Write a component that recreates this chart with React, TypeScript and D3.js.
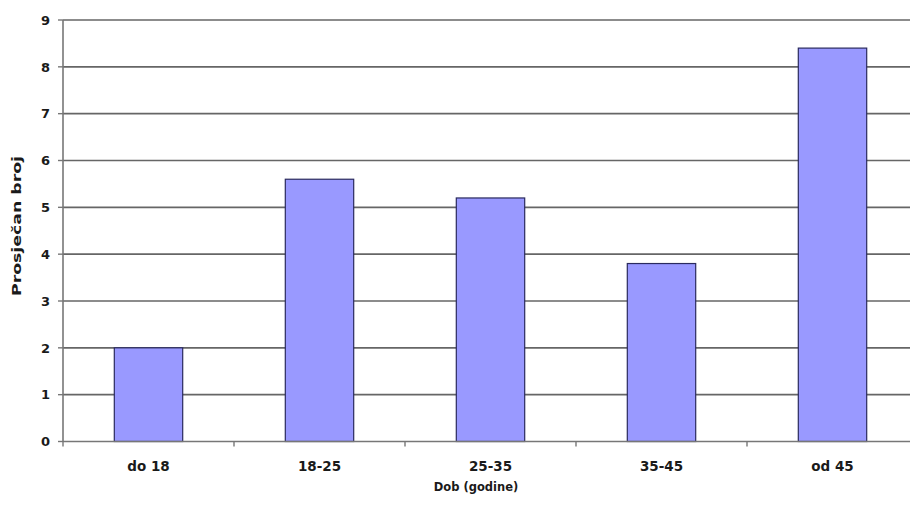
import React from "react";
import * as d3 from "d3";

const categories = ["do 18", "18-25", "25-35", "35-45", "od 45"];
const values = [2.0, 5.6, 5.2, 3.8, 8.4];
const yTicks = [0, 1, 2, 3, 4, 5, 6, 7, 8, 9];
const yLabel = "Prosječan broj";
const xLabel = "Dob (godine)";

export default function App() {
  const W = 910, H = 518;
  const left = 63, plotRight = 918, top = 20, bottom = 441.5;
  const x = d3.scaleBand<string>().domain(categories).range([left, plotRight]).paddingInner(0.6).paddingOuter(0.3);
  const y = d3.scaleLinear().domain([0, 9]).range([bottom, top]);
  const step = x.step();
  const font = "'DejaVu Sans', Arial, sans-serif";
  return (
    <svg width={W} height={H} style={{ position: "absolute", left: 0, top: 0, background: "#fff" }} fontFamily={font}>
      <rect x={0} y={0} width={W} height={H} fill="#fff" />
      {yTicks.filter(t => t > 0).map(t => (
        <line key={"g" + t} x1={left} x2={W} y1={y(t)} y2={y(t)} stroke="#666" strokeWidth={1.6} />
      ))}
      {categories.map((c, i) => (
        <rect key={c} x={x(c)} y={y(values[i])} width={x.bandwidth()} height={bottom - y(values[i])}
          fill="#9999ff" stroke="#2a2a5e" strokeWidth={1.2} />
      ))}
      <line x1={left} x2={left} y1={top} y2={bottom} stroke="#777" strokeWidth={1.6} />
      <line x1={left} x2={W} y1={bottom} y2={bottom} stroke="#777" strokeWidth={1.6} />
      {yTicks.map(t => (
        <g key={"t" + t}>
          <line x1={left - 5} x2={left} y1={y(t)} y2={y(t)} stroke="#777" strokeWidth={1.4} />
          <text x={50} y={y(t)} dy="0.36em" textAnchor="end" fontSize={13} fontWeight="bold" fill="#1a1a1a">{t}</text>
        </g>
      ))}
      {d3.range(categories.length + 1).map(i => (
        <line key={"xt" + i} x1={left + i * step} x2={left + i * step} y1={bottom} y2={bottom + 5} stroke="#777" strokeWidth={1.4} />
      ))}
      {categories.map(c => (
        <text key={"l" + c} x={(x(c) as number) + x.bandwidth() / 2} y={471} textAnchor="middle" fontSize={13.5} fontWeight="bold" fill="#1a1a1a">{c}</text>
      ))}
      <text x={476} y={491} textAnchor="middle" fontSize={11.5} fontWeight="bold" fill="#1a1a1a">{xLabel}</text>
      <text transform={`translate(21,${226}) rotate(-90)`} textAnchor="middle" fontSize={13} fontWeight="bold" fill="#1a1a1a"
        textLength={140} lengthAdjust="spacingAndGlyphs">{yLabel}</text>
    </svg>
  );
}
